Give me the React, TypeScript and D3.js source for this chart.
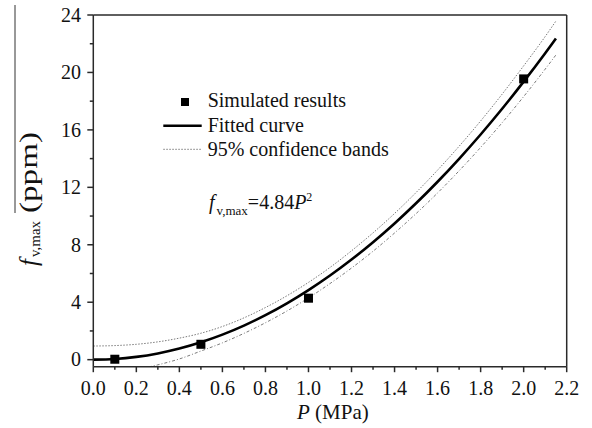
import React from "react";
import * as d3 from "d3";

const pressure: number[] = [0.1, 0.5, 1.0, 2.0];
const simulated: number[] = [0.03, 1.07, 4.28, 19.55];

const fitP: number[] = [0, 0.1, 0.2, 0.3, 0.4, 0.5, 0.6, 0.7, 0.8, 0.9, 1.0, 1.1, 1.2, 1.3, 1.4, 1.5, 1.6, 1.7, 1.8, 1.9, 2.0, 2.1, 2.15];
const fitted: number[] = [0, 0.048, 0.194, 0.436, 0.774, 1.21, 1.742, 2.372, 3.098, 3.92, 4.84, 5.856, 6.97, 8.18, 9.486, 10.89, 12.39, 13.99, 15.68, 17.47, 19.36, 21.34, 22.37];
const upperBand: number[] = [0.95, 0.98, 1.07, 1.24, 1.5, 1.84, 2.31, 2.91, 3.63, 4.45, 5.38, 6.42, 7.58, 8.83, 10.18, 11.64, 13.2, 14.86, 16.62, 18.49, 20.46, 22.5, 23.58];
const lowerBand: number[] = [-0.95, -0.88, -0.69, -0.36, 0.05, 0.6, 1.17, 1.83, 2.57, 3.39, 4.3, 5.3, 6.38, 7.55, 8.82, 10.17, 11.61, 13.15, 14.78, 16.5, 18.32, 20.23, 21.22];

const xTicks: number[] = [0, 0.2, 0.4, 0.6, 0.8, 1.0, 1.2, 1.4, 1.6, 1.8, 2.0, 2.2];
const xMinorTicks: number[] = [0.1, 0.3, 0.5, 0.7, 0.9, 1.1, 1.3, 1.5, 1.7, 1.9, 2.1];
const yTicks: number[] = [0, 4, 8, 12, 16, 20, 24];
const yMinorTicks: number[] = [2, 6, 10, 14, 18, 22];

const legendLabels: string[] = ["Simulated results", "Fitted curve", "95% confidence bands"];

const FONT = '"Liberation Serif", "DejaVu Serif", serif';

export default function App() {
  const W = 592, H = 428;
  const left = 93.3, right = 566.7, top = 15, bottom = 366.7;
  const x = d3.scaleLinear().domain([0, 2.2]).range([left, right]);
  const y = d3.scaleLinear().domain([-0.49, 24]).range([bottom, top]);

  const line = d3.line<[number, number]>().x(d => x(d[0])).y(d => y(d[1])).curve(d3.curveMonotoneX);
  const fitPath = line(fitP.map((p, i) => [p, fitted[i]]) as [number, number][]) || "";
  const upPath = line(fitP.map((p, i) => [p, upperBand[i]]) as [number, number][]) || "";
  const lowPath = line(fitP.map((p, i) => [p, lowerBand[i]]) as [number, number][]) || "";

  const axisColor = "#2a2a2a";
  const bandColor = "#7a7a7a";
  const ts = { fontFamily: FONT };

  return (
    <svg width={W} height={H} style={{ position: "absolute", left: 0, top: 0, background: "#fff", fontFamily: FONT }}>
      <defs>
        <clipPath id="plotClip">
          <rect x={left} y={top} width={right - left} height={bottom - top} />
        </clipPath>
      </defs>
      <rect x={0} y={0} width={W} height={H} fill="#fff" />

      {/* curves */}
      <g clipPath="url(#plotClip)">
        <path d={upPath} fill="none" stroke={bandColor} strokeWidth={1} strokeDasharray="1.5,1.5" />
        <path d={lowPath} fill="none" stroke={bandColor} strokeWidth={1} strokeDasharray="3,2,1,2" />
        <path d={fitPath} fill="none" stroke="#000" strokeWidth={2.6} />
      </g>
      {pressure.map((p, i) => (
        <rect key={i} x={x(p) - 4.5} y={y(simulated[i]) - 4.5} width={9} height={9} fill="#000" />
      ))}

      {/* axes frame */}
      <line x1={left} x2={right} y1={top} y2={top} stroke={axisColor} strokeWidth={1.5} />
      <line x1={right} x2={right} y1={top} y2={bottom} stroke={axisColor} strokeWidth={1.5} />
      <line x1={left} x2={right} y1={bottom} y2={bottom} stroke={axisColor} strokeWidth={1.5} />
      <line x1={left} x2={left} y1={top} y2={bottom} stroke={axisColor} strokeWidth={1.5} />

      {/* x ticks */}
      {xTicks.map((t, i) => (
        <g key={"xt" + i}>
          <line x1={x(t)} x2={x(t)} y1={bottom} y2={bottom + 5.5} stroke={axisColor} strokeWidth={1.5} />
          <text x={x(t)} y={395} fontSize={20} textAnchor="middle" fill="#111" style={ts}>{t.toFixed(1)}</text>
        </g>
      ))}
      {xMinorTicks.map((t, i) => (
        <line key={"xm" + i} x1={x(t)} x2={x(t)} y1={bottom} y2={bottom + 3} stroke={axisColor} strokeWidth={1.5} />
      ))}

      {/* y ticks */}
      {yTicks.map((t, i) => (
        <g key={"yt" + i}>
          <line x1={left - 6} x2={left} y1={y(t)} y2={y(t)} stroke={axisColor} strokeWidth={1.5} />
          <text x={81} y={y(t)} dy="0.34em" fontSize={20} textAnchor="end" fill="#111" style={ts}>{t}</text>
        </g>
      ))}
      {yMinorTicks.map((t, i) => (
        <line key={"ym" + i} x1={left - 3.5} x2={left} y1={y(t)} y2={y(t)} stroke={axisColor} strokeWidth={1.5} />
      ))}

      {/* x axis label */}
      <text x={297} y={419} fontSize={21} fill="#111" style={ts}>
        <tspan fontStyle="italic">P</tspan>
        <tspan> (MPa)</tspan>
      </text>

      {/* y axis label */}
      <g transform="translate(37, 266) rotate(-90)">
        <text x={0} y={0} fontSize={25} fill="#111" style={ts}>
          <tspan fontStyle="italic">f</tspan>
          <tspan fontSize={15} dy={3} dx={2}>v,max</tspan>
        </text>
        <text x={53} y={0} fontSize={25} fill="#111" style={ts} textLength={81} lengthAdjust="spacingAndGlyphs">(ppm)</text>
      </g>
      <line x1={15} x2={15} y1={5} y2={213} stroke="#333" strokeWidth={1} />

      {/* legend */}
      <rect x={185 - 4} y={102 - 4} width={8} height={8} fill="#000" />
      <text x={207.7} y={107.3} fontSize={20} fill="#111" style={ts}>{legendLabels[0]}</text>
      <line x1={163.3} x2={201.7} y1={125.7} y2={125.7} stroke="#000" strokeWidth={2.6} />
      <text x={207.7} y={131.7} fontSize={20} fill="#111" style={ts}>{legendLabels[1]}</text>
      <line x1={163.3} x2={201.7} y1={149.3} y2={149.3} stroke={bandColor} strokeWidth={1} strokeDasharray="1.5,1.5" />
      <text x={207.7} y={156} fontSize={20} fill="#111" style={ts}>{legendLabels[2]}</text>

      {/* formula */}
      <text x={209} y={209} fontSize={20} fill="#111" style={ts}>
        <tspan fontStyle="italic">f</tspan>
        <tspan fontSize={13} dy={6} dx={2}>v,max</tspan>
        <tspan dy={-6}>=4.84</tspan>
        <tspan fontStyle="italic">P</tspan>
        <tspan fontSize={12} dy={-8}>2</tspan>
      </text>
    </svg>
  );
}
